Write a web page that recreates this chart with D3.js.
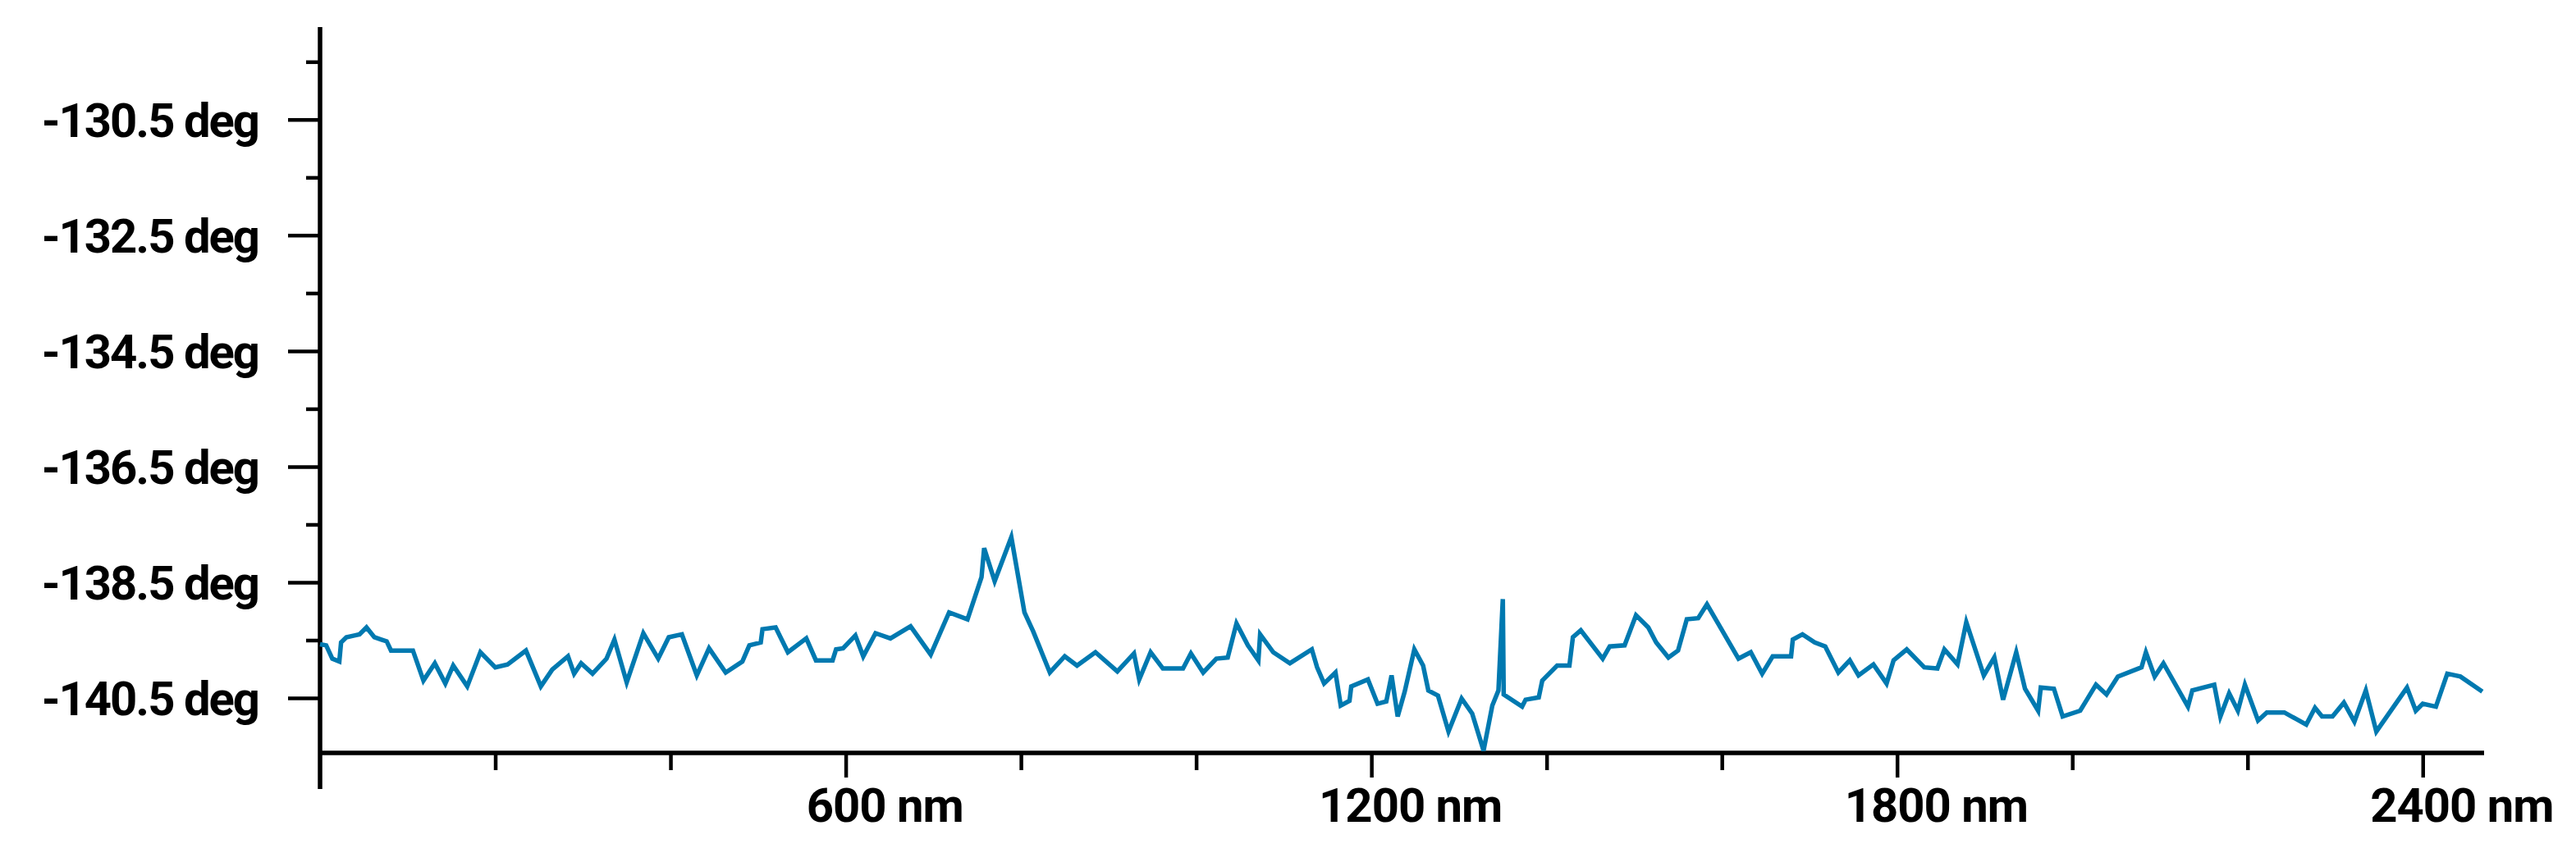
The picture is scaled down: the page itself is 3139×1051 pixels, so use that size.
<!DOCTYPE html>
<html>
<head>
<meta charset="utf-8">
<script src="https://cdn.jsdelivr.net/npm/d3@7"></script>
<style>
    body { margin: 0; background: #fff; }
    .axis text { font-family: Roboto, "Open Sans", sans-serif; font-weight: 700; fill: #000; }
    .axis line { stroke: #000; }
</style>
</head>
<body>
<div id="chart"></div>
<script>
// phase profile along the scan line
var dist_nm = [
    0, 7, 14, 22, 24, 30, 39, 45, 53, 62, 70, 76, 81, 93, 106, 118, 131, 143, 152, 168,
    183, 200, 214, 235, 252, 265, 283, 290, 298, 311, 327, 336, 350, 369, 386, 398, 413, 430, 444, 463,
    482, 490, 503, 505, 520, 534, 555, 566, 585, 589, 597, 611, 620, 634, 651, 674, 697, 718, 739, 755,
    758, 770, 789, 804, 814, 833, 850, 864, 885, 910, 929, 935, 948, 962, 985, 994, 1008, 1023, 1036, 1046,
    1059, 1071, 1073, 1088, 1107, 1132, 1138, 1146, 1159, 1165, 1175, 1177, 1196, 1207, 1217, 1223, 1230, 1238, 1249, 1259,
    1265, 1276, 1288, 1303, 1315, 1328, 1338, 1345, 1350, 1351, 1372, 1376, 1391, 1395, 1412, 1426, 1430, 1439, 1464, 1472,
    1489, 1502, 1516, 1525, 1539, 1550, 1560, 1573, 1583, 1619, 1633, 1646, 1658, 1679, 1681, 1692, 1706, 1718, 1733, 1746,
    1756, 1773, 1788, 1796, 1811, 1831, 1846, 1854, 1869, 1879, 1899, 1911, 1921, 1936, 1946, 1961, 1964, 1979, 1989, 2009,
    2027, 2039, 2052, 2079, 2084, 2094, 2104, 2132, 2137, 2162, 2169, 2179, 2189, 2197, 2212, 2222, 2242, 2267, 2277, 2285,
    2297, 2310, 2322, 2335, 2347, 2382, 2392, 2400, 2415, 2428, 2443, 2468
];
var phase_deg = [
    -139.57, -139.59, -139.82, -139.87, -139.54, -139.45, -139.42, -139.40, -139.28, -139.45, -139.49, -139.52, -139.68, -139.68, -139.68, -140.20, -139.90, -140.25, -139.94, -140.30,
    -139.71, -139.97, -139.92, -139.68, -140.30, -140.01, -139.78, -140.08, -139.90, -140.08, -139.82, -139.49, -140.23, -139.38, -139.82, -139.45, -139.40, -140.11, -139.64, -140.06,
    -139.87, -139.59, -139.54, -139.31, -139.28, -139.71, -139.47, -139.85, -139.85, -139.66, -139.64, -139.42, -139.78, -139.38, -139.47, -139.26, -139.75, -139.02, -139.14, -138.41,
    -137.91, -138.48, -137.72, -139.02, -139.35, -140.06, -139.78, -139.94, -139.71, -140.04, -139.73, -140.18, -139.71, -139.99, -139.99, -139.73, -140.06, -139.82, -139.80, -139.21,
    -139.59, -139.85, -139.40, -139.71, -139.90, -139.66, -139.97, -140.25, -140.06, -140.63, -140.55, -140.30, -140.18, -140.60, -140.56, -140.11, -140.82, -140.39, -139.66, -139.94,
    -140.37, -140.46, -141.08, -140.51, -140.77, -141.41, -140.63, -140.37, -138.79, -140.44, -140.65, -140.53, -140.49, -140.20, -139.94, -139.94, -139.45, -139.33, -139.82, -139.61,
    -139.59, -139.07, -139.28, -139.54, -139.80, -139.68, -139.14, -139.12, -138.88, -139.82, -139.71, -140.08, -139.78, -139.78, -139.49, -139.40, -139.54, -139.61, -140.06, -139.85,
    -140.11, -139.92, -140.25, -139.85, -139.66, -139.97, -139.99, -139.66, -139.92, -139.19, -140.11, -139.80, -140.53, -139.71, -140.34, -140.72, -140.32, -140.34, -140.82, -140.72,
    -140.27, -140.44, -140.13, -139.97, -139.71, -140.13, -139.90, -140.65, -140.37, -140.27, -140.82, -140.42, -140.72, -140.27, -140.89, -140.75, -140.75, -140.96, -140.67, -140.82,
    -140.82, -140.58, -140.91, -140.37, -141.08, -140.32, -140.72, -140.60, -140.65, -140.08, -140.13, -140.39
];

var y_major = [-140.5, -138.5, -136.5, -134.5, -132.5, -130.5];
var y_minor = [-139.5, -137.5, -135.5, -133.5, -131.5, -129.5];
var x_major = [600, 1200, 1800, 2400];
var x_minor = [200, 400, 800, 1000, 1400, 1600, 2000, 2200];

var svg = d3.select("#chart").append("svg").attr("width", 3139).attr("height", 1051),
    x0 = 390, x1 = 3027, y0 = 918, y1 = 33;

var x = d3.scaleLinear().domain([0, 2470]).range([x0, x1]);
var y = d3.scaleLinear().domain([-141.45, -128.9]).range([y0, y1]);

// y axis: long labelled ticks + short minor ticks
var gy = svg.append("g")
    .attr("class", "axis")
    .attr("transform", "translate(" + x0 + ",0)")
    .call(d3.axisLeft(y).tickValues(y_major).tickSize(39).tickPadding(36)
        .tickFormat(function(d) { return d.toFixed(1) + " deg"; }));
gy.select(".domain").remove();
gy.selectAll(".tick line").attr("stroke-width", 4.5);
gy.selectAll(".tick text").style("font-size", "58px").style("letter-spacing", "-2px").attr("dy", "0.36em");

var gy2 = svg.append("g")
    .attr("class", "axis")
    .attr("transform", "translate(" + x0 + ",0)")
    .call(d3.axisLeft(y).tickValues(y_minor).tickSize(17).tickFormat(""));
gy2.select(".domain").remove();
gy2.selectAll(".tick line").attr("stroke-width", 4.5);

// x axis
var gx = svg.append("g")
    .attr("class", "axis")
    .attr("transform", "translate(0," + y0 + ")")
    .call(d3.axisBottom(x).tickValues(x_major).tickSize(30).tickPadding(13)
        .tickFormat(function(d) { return d; }));
gx.select(".domain").remove();
gx.selectAll(".tick line").attr("stroke-width", 4.5);
gx.selectAll(".tick text").style("font-size", "58px").style("letter-spacing", "-1px").each(function(d) {
    // number centred on the tick, unit hangs to the right
    var t = d3.select(this).text(null).attr("text-anchor", "start");
    var num = t.append("tspan").text(d);
    t.append("tspan").text(" nm");
    var w = num.node().getComputedTextLength();
    t.attr("x", -w / 2);
});

var gx2 = svg.append("g")
    .attr("class", "axis")
    .attr("transform", "translate(0," + y0 + ")")
    .call(d3.axisBottom(x).tickValues(x_minor).tickSize(21).tickFormat(""));
gx2.select(".domain").remove();
gx2.selectAll(".tick line").attr("stroke-width", 4.5);

// axis lines (y axis runs a bit past the x axis)
svg.append("line").attr("x1", x0).attr("x2", x0).attr("y1", y1).attr("y2", 962)
    .attr("stroke", "#000").attr("stroke-width", 5.5);
svg.append("line").attr("x1", x0 - 2).attr("x2", x1).attr("y1", y0).attr("y2", y0)
    .attr("stroke", "#000").attr("stroke-width", 5.5);

var line = d3.line()
    .x(function(d, i) { return x(dist_nm[i]); })
    .y(function(d) { return y(d); });

svg.append("path")
    .datum(phase_deg)
    .attr("fill", "none")
    .attr("stroke", "#0079b0")
    .attr("stroke-width", 5.5)
    .attr("d", line);
</script>
</body>
</html>
